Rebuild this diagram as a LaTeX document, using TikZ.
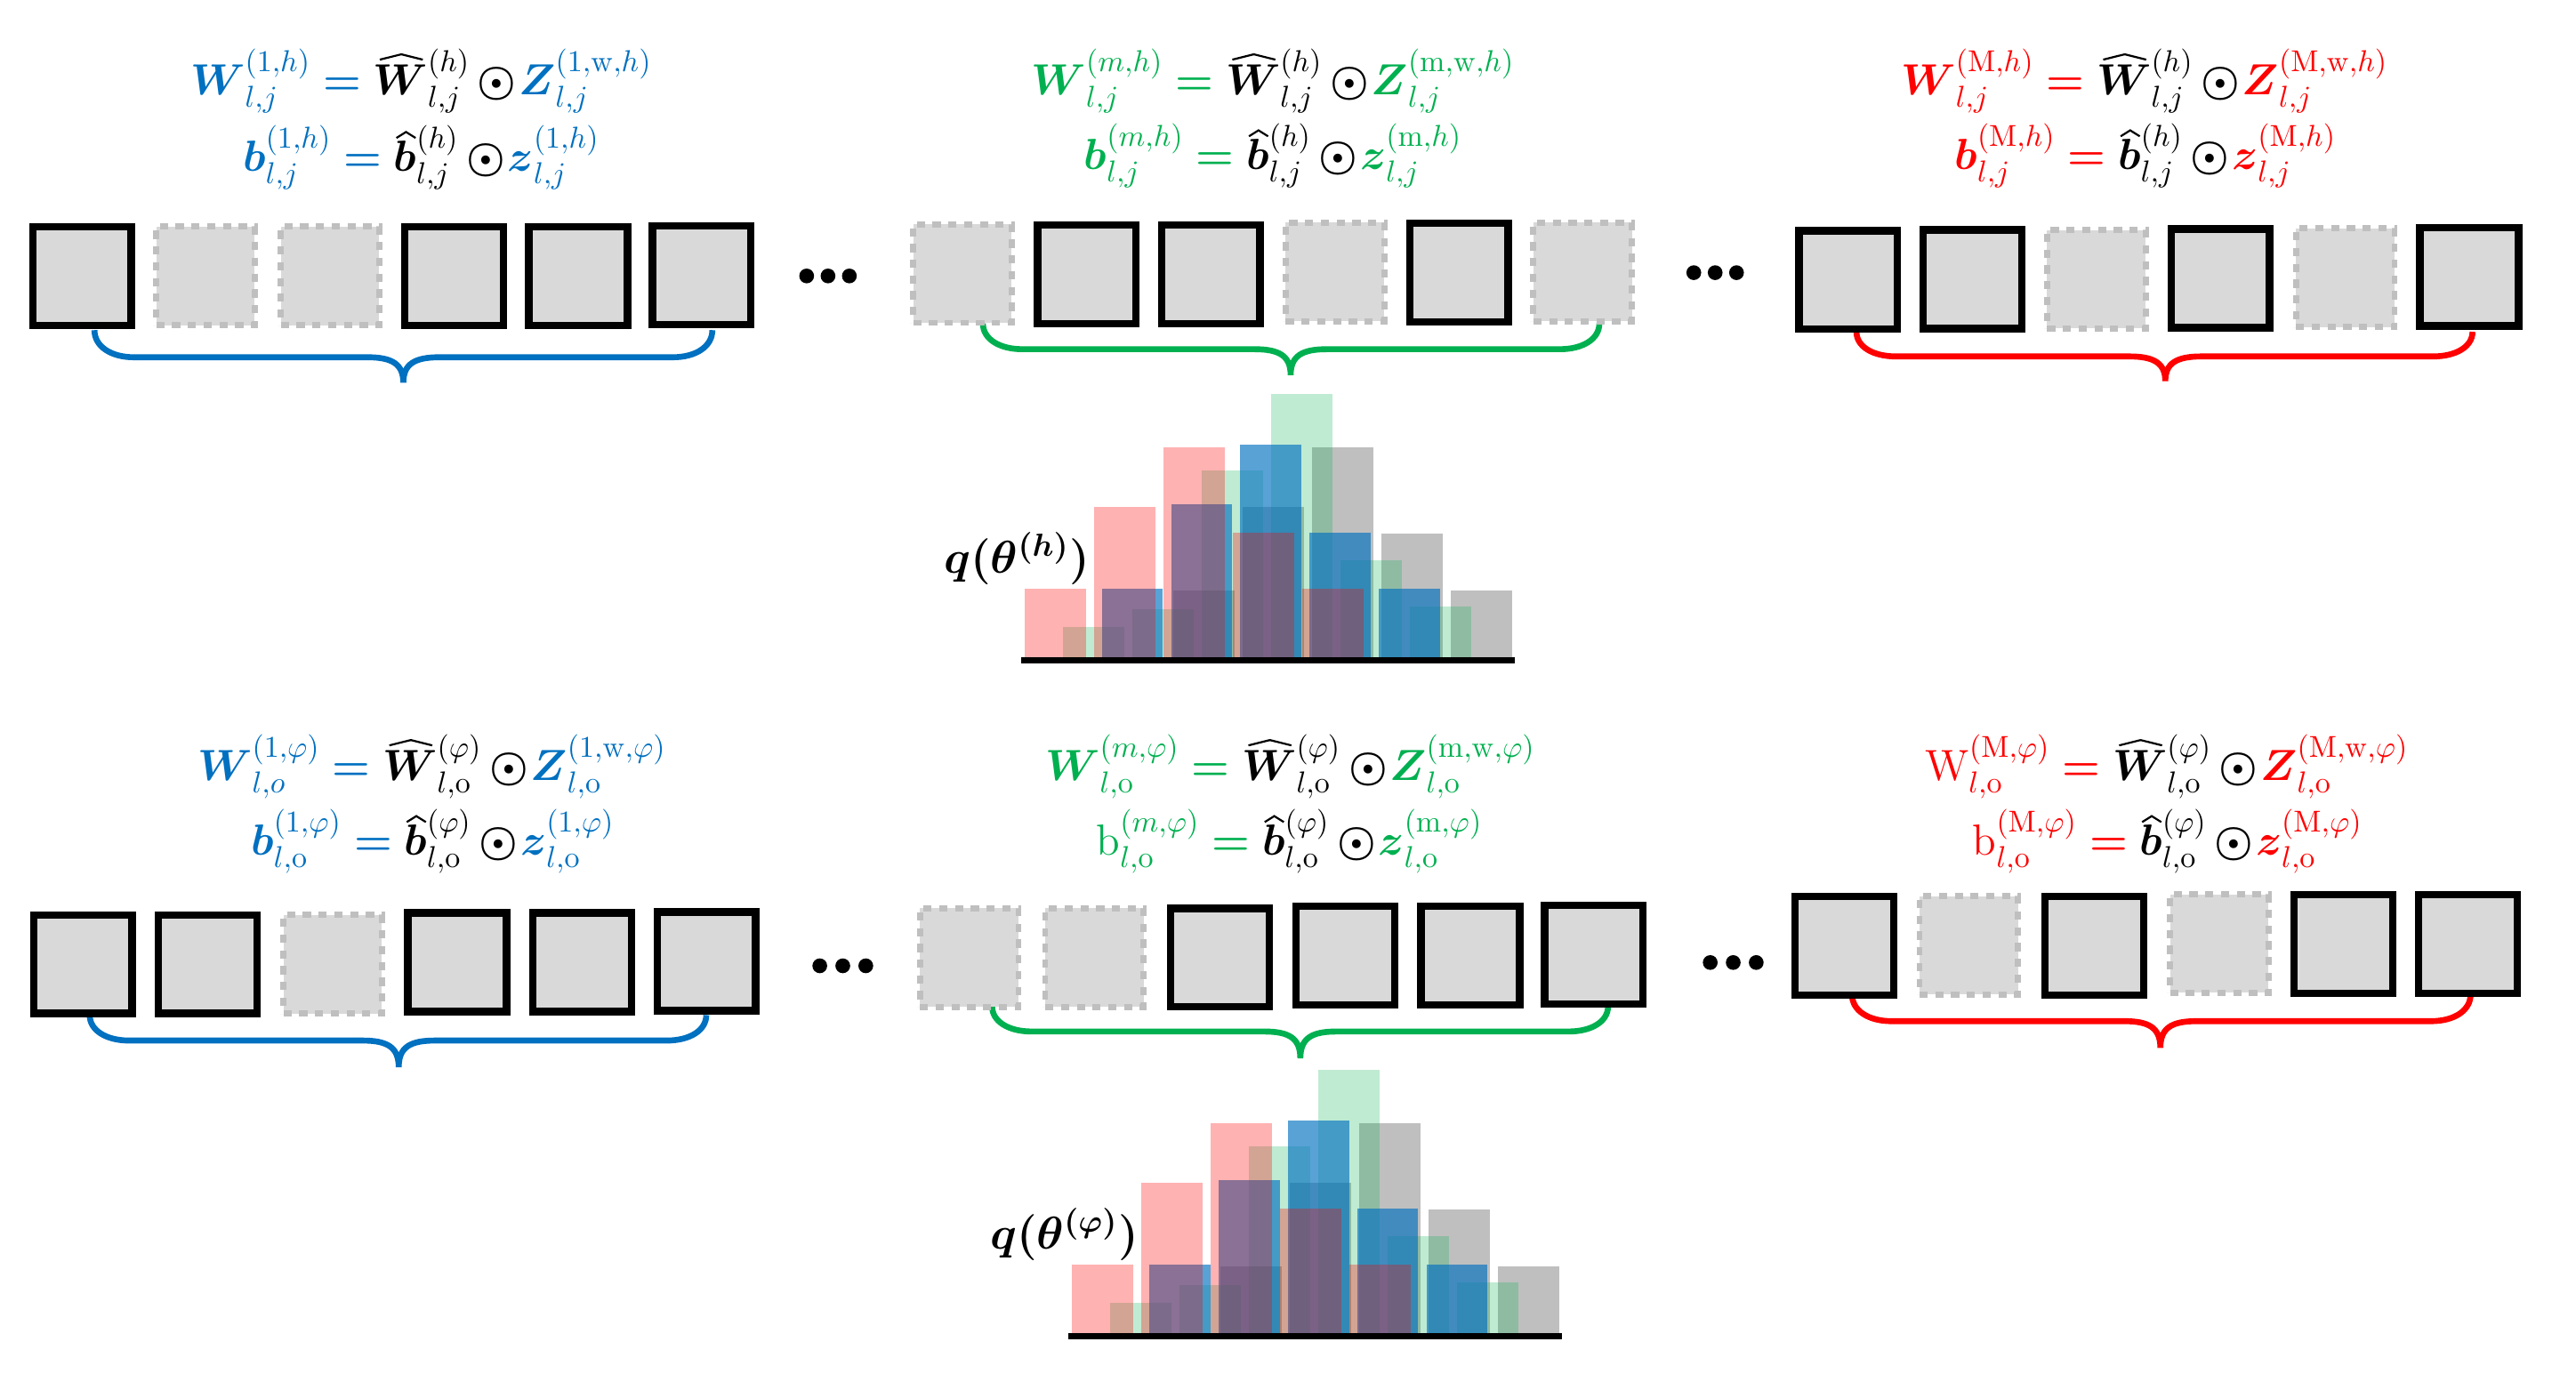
\documentclass[tikz,border=0pt]{standalone}
\usepackage{amsmath}
\usepackage{graphicx}
\definecolor{cb}{HTML}{0070C0}
\definecolor{cg}{HTML}{00B050}
\definecolor{cr}{HTML}{FF0000}
\definecolor{boxfill}{HTML}{D9D9D9}
\definecolor{dashgray}{HTML}{BFBFBF}
\definecolor{histgray}{HTML}{808080}
\newcommand{\eq}{\boldsymbol{=}}
\newcommand{\hd}{\mkern3mu{\boldsymbol{\odot}}\mkern1mu}
% hats drawn from rules
\newcommand{\hatWshape}{\rotatebox{14}{\rule{7.4pt}{0.65pt}}\kern-0.3pt\raisebox{1.79pt}{\rotatebox{-14}{\rule{7.4pt}{0.65pt}}}}
\newcommand{\hatbshape}{\rotatebox{32}{\rule{3.9pt}{0.65pt}}\kern-0.64pt\raisebox{2.07pt}{\rotatebox{-32}{\rule{3.9pt}{0.65pt}}}}
\newcommand{\hW}{{\boldsymbol{W}\smash{\llap{\raisebox{11.2pt}{\hatWshape}\kern1.6pt}}}}
\newcommand{\hb}{{\boldsymbol{b}\smash{\llap{\raisebox{10.6pt}{\hatbshape}\kern0.2pt}}}}
\tikzset{
  solidbox/.style={draw=black, line width=4.5pt, fill=boxfill, minimum size=60pt, inner sep=0pt},
  dashbox/.style={draw=dashgray, line width=3.7pt, dash pattern=on 5pt off 4.6pt, fill=boxfill, minimum size=60pt, inner sep=0pt},
  dotnode/.style={circle, fill=black, minimum size=9pt, inner sep=0pt},
  fml/.style={anchor=base, inner sep=0pt, scale=1.84, font=\fontsize{14.4}{17}\selectfont},
  qlabel/.style={anchor=center, inner sep=0pt, scale=1.944, font=\fontsize{14.4}{17}\selectfont},
  bracestyle/.style={line width=3.6pt},
  barGy/.style={fill=histgray, fill opacity=0.5},
  barG/.style={fill=cg, fill opacity=0.25},
  barB/.style={fill=cb, fill opacity=0.65},
  barR/.style={fill=cr, fill opacity=0.3},
  axisline/.style={line width=3.5pt}
}
% #1 colour, #2 x1, #3 x2, #4 ytop, #5 yh, #6 xm, #7 ytip
\newcommand{\mybrace}[7]{%
  \draw[#1, bracestyle] (#2,#4) .. controls (#2,{#4+0.6*(#5-#4)}) and ({#2+10},#5) .. ({#2+24},#5)
    -- ({#6-22},#5) .. controls ({#6-7},#5) and (#6,{#5+4}) .. (#6,#7)
    .. controls (#6,{#5+4}) and ({#6+7},#5) .. ({#6+22},#5)
    -- ({#3-24},#5) .. controls ({#3-10},#5) and (#3,{#4+0.6*(#5-#4)}) .. (#3,#4);}
% histogram, #1 = name prefix
\newcommand{\myhist}[1]{%
  \foreach \k/\t in {0/359.3,1/308.6,2/272.5,3/324.9,4/359.3}
    \fill[barGy] ({714.2+\k*42.2},\t) rectangle ({714.2+\k*42.2+37.3},401);
  \foreach \k/\t in {0/381.9,1/370.9,2/286.4,3/239.9,4/341.3,5/369.3}
    \fill[barG] ({647.1+\k*42.2},\t) rectangle ({647.1+\k*42.2+37.3},401);
  \foreach \k/\t in {0/358.4,1/307.0,2/270.9,3/324.3,4/358.4}
    \fill[barB] ({670.6+\k*42.2},\t) rectangle ({670.6+\k*42.2+37.3},401);
  \foreach \k/\t in {0/358.4,1/308.6,2/272.5,3/324.3,4/358.4}
    \fill[barR] ({623.8+\k*42.2},\t) rectangle ({623.8+\k*42.2+37.3},401);
  \coordinate (#1L) at (621.7,402);
  \coordinate (#1R) at (922.1,402);
  \draw[axisline] (#1L) -- (#1R);}
\begin{document}
\begin{tikzpicture}[x=1pt,y=-1pt]
\useasboundingbox (0,0) rectangle (1568,846);
% ---------- braces ----------
\mybrace{cb}{57.5}{433.6}{201}{217.5}{245.5}{233}
\mybrace{cg}{598.3}{973.5}{197}{212.6}{785.6}{228.3}
\mybrace{cr}{1130}{1505}{202}{217}{1318}{232}
\mybrace{cb}{54.6}{429.9}{618}{633.5}{242.7}{649.7}
\mybrace{cg}{603.9}{978.8}{612.7}{628}{791.5}{644.3}
\mybrace{cr}{1127.3}{1503.8}{605.5}{621.7}{1315}{637.9}
% ---------- top row boxes ----------
\node[solidbox] (tb1) at (49.9,168) {};
\node[dashbox]  (tb2) at (125.1,168) {};
\node[dashbox]  (tb3) at (200.9,168) {};
\node[solidbox] (tb4) at (276.5,168) {};
\node[solidbox] (tb5) at (351.9,168) {};
\node[solidbox] (tb6) at (427.1,167.5) {};
\node[dashbox]  (tg1) at (585.8,166.5) {};
\node[solidbox] (tg2) at (661.5,167) {};
\node[solidbox] (tg3) at (737,167) {};
\node[dashbox]  (tg4) at (812.6,165.5) {};
\node[solidbox] (tg5) at (888,166) {};
\node[dashbox]  (tg6) at (963.3,165.5) {};
\node[solidbox] (tr1) at (1125,170.5) {};
\node[solidbox] (tr2) at (1200.5,170) {};
\node[dashbox]  (tr3) at (1276,170) {};
\node[solidbox] (tr4) at (1351.5,169.5) {};
\node[dashbox]  (tr5) at (1427.5,169) {};
\node[solidbox] (tr6) at (1503,168.5) {};
% ---------- bottom row boxes ----------
\node[solidbox] (bb1) at (50.4,587) {};
\node[solidbox] (bb2) at (126.3,587) {};
\node[dashbox]  (bb3) at (202.5,587) {};
\node[solidbox] (bb4) at (278.3,585.8) {};
\node[solidbox] (bb5) at (354.3,585.8) {};
\node[solidbox] (bb6) at (430,585.3) {};
\node[dashbox]  (bg1) at (589.9,583) {};
\node[dashbox]  (bg2) at (666.2,583) {};
\node[solidbox] (bg3) at (742.7,583) {};
\node[solidbox] (bg4) at (819,581.8) {};
\node[solidbox] (bg5) at (895,581.8) {};
\node[solidbox] (bg6) at (970.2,581.3) {};
\node[solidbox] (br1) at (1122.7,575.8) {};
\node[dashbox]  (br2) at (1198.4,575.5) {};
\node[solidbox] (br3) at (1274.7,575.8) {};
\node[dashbox]  (br4) at (1350.9,574.5) {};
\node[solidbox] (br5) at (1426.5,574.6) {};
\node[solidbox] (br6) at (1502.1,574.8) {};
% ---------- dots ----------
\foreach \n/\x/\y in {ta1/491/168, ta2/504/168, ta3/517/168,
                      tc1/1031/166, tc2/1044/166, tc3/1057/166,
                      ba1/499/588, ba2/513/588, ba3/527/588,
                      bc1/1041/586, bc2/1055/586, bc3/1069/586}
  \node[dotnode] (\n) at (\x,\y) {};
% ---------- formulas, top ----------
\node[fml] (ftb1) at (256.5,57.5) {$\color{cb}\boldsymbol{W}^{(1,h)}_{l,j} \eq \color{black}\hW^{(h)}_{l,j}\hd\color{cb}\boldsymbol{Z}^{(1,\mathrm{w},h)}_{l,j}$};
\node[fml] (ftb2) at (256.5,104) {$\color{cb}\boldsymbol{b}^{(1,h)}_{l,j} \eq \color{black}\hb^{(h)}_{l,j}\hd\color{cb}\boldsymbol{z}^{(1,h)}_{l,j}$};
\node[fml] (ftg1) at (775,57.5) {$\color{cg}\boldsymbol{W}^{(m,h)}_{l,j} \eq \color{black}\hW^{(h)}_{l,j}\hd\color{cg}\boldsymbol{Z}^{(\mathrm{m},\mathrm{w},h)}_{l,j}$};
\node[fml] (ftg2) at (775,103) {$\color{cg}\boldsymbol{b}^{(m,h)}_{l,j} \eq \color{black}\hb^{(h)}_{l,j}\hd\color{cg}\boldsymbol{z}^{(\mathrm{m},h)}_{l,j}$};
\node[fml] (ftr1) at (1305.5,57.5) {$\color{cr}\boldsymbol{W}^{(\mathrm{M},h)}_{l,j} \eq \color{black}\hW^{(h)}_{l,j}\hd\color{cr}\boldsymbol{Z}^{(\mathrm{M},\mathrm{w},h)}_{l,j}$};
\node[fml] (ftr2) at (1306,103) {$\color{cr}\boldsymbol{b}^{(\mathrm{M},h)}_{l,j} \eq \color{black}\hb^{(h)}_{l,j}\hd\color{cr}\boldsymbol{z}^{(\mathrm{M},h)}_{l,j}$};
% ---------- formulas, bottom ----------
\node[fml] (fbb1) at (263,475) {$\color{cb}\boldsymbol{W}^{(1,\varphi)}_{l,o} \eq \color{black}\hW^{(\varphi)}_{l,\mathrm{o}}\hd\color{cb}\boldsymbol{Z}^{(1,\mathrm{w},\varphi)}_{l,\mathrm{o}}$};
\node[fml] (fbb2) at (263.5,520.5) {$\color{cb}\boldsymbol{b}^{(1,\varphi)}_{l,\mathrm{o}} \eq \color{black}\hb^{(\varphi)}_{l,\mathrm{o}}\hd\color{cb}\boldsymbol{z}^{(1,\varphi)}_{l,\mathrm{o}}$};
\node[fml] (fbg1) at (785.5,475) {$\color{cg}\boldsymbol{W}^{(m,\varphi)}_{l,\mathrm{o}} \eq \color{black}\hW^{(\varphi)}_{l,\mathrm{o}}\hd\color{cg}\boldsymbol{Z}^{(\mathrm{m},\mathrm{w},\varphi)}_{l,\mathrm{o}}$};
\node[fml] (fbg2) at (785,520.5) {$\color{cg}\mathrm{b}^{(m,\varphi)}_{l,\mathrm{o}} \eq \color{black}\hb^{(\varphi)}_{l,\mathrm{o}}\hd\color{cg}\boldsymbol{z}^{(\mathrm{m},\varphi)}_{l,\mathrm{o}}$};
\node[fml] (fbr1) at (1319,475) {$\color{cr}\mathrm{W}^{(\mathrm{M},\varphi)}_{l,\mathrm{o}} \eq \color{black}\hW^{(\varphi)}_{l,\mathrm{o}}\hd\color{cr}\boldsymbol{Z}^{(\mathrm{M},\mathrm{w},\varphi)}_{l,\mathrm{o}}$};
\node[fml] (fbr2) at (1319.5,520.5) {$\color{cr}\mathrm{b}^{(\mathrm{M},\varphi)}_{l,\mathrm{o}} \eq \color{black}\hb^{(\varphi)}_{l,\mathrm{o}}\hd\color{cr}\boldsymbol{z}^{(\mathrm{M},\varphi)}_{l,\mathrm{o}}$};
% ---------- histograms ----------
\myhist{hA}
\node[qlabel] (qA) at (619,340) {$\boldsymbol{q(\theta^{(h)})}$};
\begin{scope}[shift={(28.8,411.5)}]
  \myhist{hB}
  \node[qlabel] (qB) at (619,340) {$\boldsymbol{q(\theta^{(\varphi)})}$};
\end{scope}
\end{tikzpicture}
\end{document}
